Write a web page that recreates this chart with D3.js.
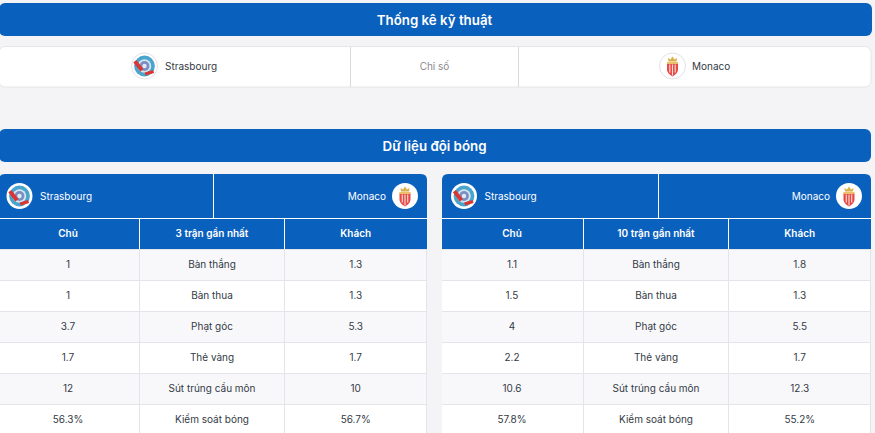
<!DOCTYPE html>
<html><head><meta charset="utf-8">
<script src="https://cdn.jsdelivr.net/npm/d3@7"></script>
<style>html,body{margin:0;padding:0;background:#f4f4f6;overflow:hidden}svg{display:block}text{font-family:Inter,"Noto Sans",sans-serif}</style>
</head><body><svg id="c" width="875" height="433"></svg>
<script>
const homeTeam = "Strasbourg";
const awayTeam = "Monaco";
const titleTop = "Thống kê kỹ thuật";
const titleMid = "Dữ liệu đội bóng";
const indexLabel = "Chỉ số";
const colHome = "Chủ";
const colAway = "Khách";
const metrics = ["Bàn thắng","Bàn thua","Phạt góc","Thẻ vàng","Sút trúng cầu môn","Kiểm soát bóng"];
const last3Label = "3 trận gần nhất";
const last3Home = ["1","1","3.7","1.7","12","56.3%"];
const last3Away = ["1.3","1.3","5.3","1.7","10","56.7%"];
const last10Label = "10 trận gần nhất";
const last10Home = ["1.1","1.5","4","2.2","10.6","57.8%"];
const last10Away = ["1.8","1.3","5.5","1.7","12.3","55.2%"];

const BLUE="#0a60bd", LINE="#e4e4ea", ALT="#f8f8fb", INK="#333a45";
const svg=d3.select("#c");
const y=d3.scaleBand().domain(d3.range(metrics.length)).range([249,435]);

function txt(g,x,yy,s,o={}){
  return g.append("text").attr("x",x).attr("y",yy).attr("text-anchor",o.a||"middle")
   .attr("dominant-baseline","central").attr("font-size",o.s||10).attr("font-weight",o.w||400)
   .attr("fill",o.f||INK).text(s);
}
function vline(g,x,a,b,c){g.append("line").attr("x1",x).attr("x2",x).attr("y1",a).attr("y2",b).attr("stroke",c).attr("stroke-width",1);}
function hline(g,a,b,yy,c){g.append("line").attr("x1",a).attr("x2",b).attr("y1",yy).attr("y2",yy).attr("stroke",c).attr("stroke-width",1);}

function homeLogo(g,cx,cy,r,ring){
  const l=g.append("g").attr("transform",`translate(${cx},${cy})`);
  l.append("circle").attr("r",r).attr("fill","#fff").attr("stroke",ring||"none");
  l.append("circle").attr("r",r*.8).attr("fill","#49a5cd");
  l.append("circle").attr("r",r*.52).attr("fill","#d5e6ef");
  l.append("circle").attr("r",r*.38).attr("fill","#7c8fc2");
  l.append("circle").attr("r",r*.17).attr("fill","#e3e8f3");
  l.append("line").attr("x1",-r*.74).attr("y1",-r*.38).attr("x2",-r*.2).attr("y2",r*.34)
    .attr("stroke","#dc3430").attr("stroke-width",r*.3);
  l.append("line").attr("x1",r*.05).attr("y1",r*.62).attr("x2",r*.7).attr("y2",r*.42)
    .attr("stroke","#dc3430").attr("stroke-width",r*.24);
}
function awayLogo(g,cx,cy,r,ring){
  const l=g.append("g").attr("transform",`translate(${cx},${cy})`);
  l.append("circle").attr("r",r).attr("fill","#fff").attr("stroke",ring||"none");
  const u=r/13;
  const s=`scale(${u})`;
  l.append("path").attr("transform",s).attr("d","M-5.5,-3 L5.5,-3 L5.5,4 Q5,7.5 0,10.5 Q-5,7.5 -5.5,4 Z").attr("fill","#e9484a");
  [-2.7,0,2.7].forEach(x=>l.append("rect").attr("transform",s).attr("x",x-.55).attr("y",-1.5).attr("width",1.1).attr("height",x===0?11:8).attr("fill","#f8e2d0"));
  l.append("rect").attr("transform",s).attr("x",-5.5).attr("y",-4).attr("width",11).attr("height",2).attr("fill","#ecc06a");
  l.append("path").attr("transform",s).attr("d","M-4,-4.5 L-4.5,-8 L-2,-6.5 L0,-9.5 L2,-6.5 L4.5,-8 L4,-4.5 Z").attr("fill","#d9b04a");
}

function bar(x0,x1,y0,y1,label,cx){
  svg.append("rect").attr("x",x0).attr("y",y0).attr("width",x1-x0).attr("height",y1-y0).attr("rx",6).attr("fill",BLUE);
  txt(svg,cx,(y0+y1)/2,label,{s:13.3,w:600,f:"#fff"});
}
bar(-1,872,3,36,titleTop,434.5);
bar(-1,871,129,162,titleMid,434.5);

svg.append("rect").attr("x",-1).attr("y",46.5).attr("width",872).attr("height",40.5).attr("rx",6).attr("fill","#fff").attr("stroke","#e6e6ea");
vline(svg,350.5,47,87,"#d9d9dd");vline(svg,518.5,47,87,"#d9d9dd");
homeLogo(svg,144.5,66,13,"#e2e2e6");
txt(svg,165,66,homeTeam,{a:"start"});
txt(svg,434.5,66,indexLabel,{f:"#8a8a8f"});
awayLogo(svg,672.5,66,13,"#e2e2e6");
txt(svg,692,66,awayTeam,{a:"start"});

function table(o){
  const g=svg.append("g");
  const {x0,x1,d0,d1,d2,label,home,away}=o;
  g.append("path").attr("d",`M${x0},249V${180}Q${x0},174 ${x0+6},174H${x1-6}Q${x1},174 ${x1},180V249Z`).attr("fill",BLUE);
  g.selectAll("rect.r").data(metrics).join("rect").attr("class","r")
    .attr("x",x0).attr("width",x1-x0).attr("y",(d,i)=>y(i)).attr("height",y.bandwidth())
    .attr("fill",(d,i)=>i%2?"#fff":ALT);
  metrics.forEach((m,i)=>hline(g,x0,x1,y(i)+.5,LINE));
  vline(g,d0,174,218,"#fff");
  hline(g,x0,x1,218.5,"#fff");
  vline(g,d1,219,249,"#fff");vline(g,d2,219,249,"#fff");
  vline(g,d1,249,433,LINE);vline(g,d2,249,433,LINE);
  vline(g,x1-.5,249,433,LINE);
  const c0=o.c0,c1=(d1+d2)/2,c2=(d2+x1)/2;
  homeLogo(g,o.hx,196,13);
  txt(g,o.hx+20.5,195.5,homeTeam,{a:"start",f:"#fff"});
  awayLogo(g,x1-22,196,13);
  txt(g,x1-41,195.5,awayTeam,{a:"end",f:"#fff"});
  [[c0,colHome],[c1,label],[c2,colAway]].forEach(([x,s])=>txt(g,x,233,s,{w:600,f:"#fff"}));
  metrics.forEach((m,i)=>{
    const cy=y(i)+y.bandwidth()/2-.5;
    txt(g,c0,cy,home[i]);txt(g,c1,cy,m);txt(g,c2,cy,away[i]);
  });
}
table({x0:-1,x1:427,d0:213.5,d1:139.5,d2:284.5,c0:68,hx:19.5,label:last3Label,home:last3Home,away:last3Away});
table({x0:442,x1:871,d0:658.5,d1:583.5,d2:728.5,c0:512,hx:464,label:last10Label,home:last10Home,away:last10Away});
</script></body></html>
